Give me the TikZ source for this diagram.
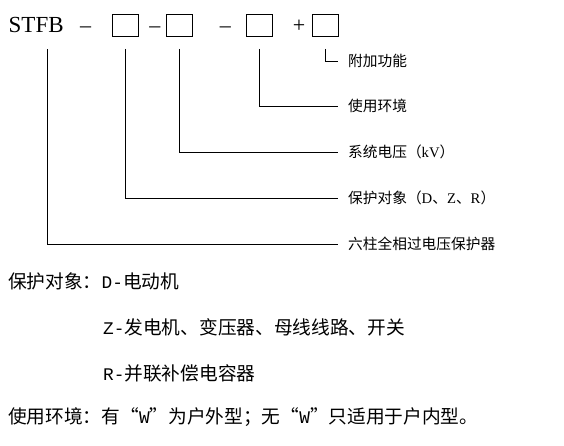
\documentclass[tikz,border=0pt]{standalone}
\usepackage{fontspec}
\setmainfont{Liberation Serif}
\newfontfamily\cjkfont{Noto Sans CJK SC}
\newfontfamily\halfw[Scale=0.95]{Liberation Mono}
\usepackage{tikz}
\usetikzlibrary{positioning}

\begin{document}
\begin{tikzpicture}[x=1pt, y=-1pt,
  code/.style={inner sep=0pt, text height=15pt, text depth=0pt, font=\fontsize{22}{22}\selectfont},
  blank/.style={rectangle, draw, line width=1pt, minimum width=26pt, minimum height=22pt, inner sep=0pt},
  lead/.style={line width=0.9pt},
  part/.style={anchor=west, inner sep=0pt, inner xsep=10pt, font=\cjkfont\fontsize{14.7}{16}\selectfont},
  note/.style={anchor=west, inner sep=0pt, font=\cjkfont\fontsize{18.7}{20}\selectfont}]

  \useasboundingbox (0,0) rectangle (564,446);

  % Model code
  \node[code, anchor=west, font=\fontsize{23}{23}\selectfont] (stfb) at (8.5,25.5) {STFB};
  \node[code, right=16pt of stfb] (d1) {–};
  \node[blank, right=21pt of d1] (b1) {};
  \node[code, right=10pt of b1] (d2) {–};
  \node[blank, right=5pt of d2] (b2) {};
  \node[code, right=27pt of b2] (d3) {–};
  \node[blank, right=15pt of d3] (b3) {};
  \node[code, right=19.5pt of b3] (plus) {+};
  \node[blank, right=7pt of plus] (b4) {};

  % Meaning of each part
  \node[part] (l1) at (338,61) {附加功能};
  \node[part] (l2) at (338,106) {使用环境};
  \node[part] (l3) at (338,152) {系统电压（{\rmfamily kV}）};
  \node[part] (l4) at (338,198) {保护对象（{\rmfamily D}、{\rmfamily Z}、{\rmfamily R}）};
  \node[part] (l5) at (338,244) {六柱全相过电压保护器};

  % Leader lines
  \coordinate (s0) at ([xshift=38.5pt,yshift=-16pt]stfb.south west);
  \draw[lead] ([yshift=-12pt]b4.south) |- (l1.west);
  \draw[lead] ([yshift=-12pt]b3.south) |- (l2.west);
  \draw[lead] ([yshift=-12pt]b2.south) |- (l3.west);
  \draw[lead] ([yshift=-12pt]b1.south) |- (l4.west);
  \draw[lead] (s0) |- (l5.west);

  % Notes
  \node[note] (n1) at (8,281) {保护对象：{\halfw D-}电动机};
  \node[note] (n2) at (103,327) {{\halfw Z-}发电机、变压器、母线线路、开关};
  \node[note] (n3) at (103,373) {{\halfw R-}并联补偿电容器};
  \node[note] (n4) at (8,417) {使用环境：有“{\halfw W}”为户外型；无“{\halfw W}”只适用于户内型。};

\end{tikzpicture}
\end{document}
